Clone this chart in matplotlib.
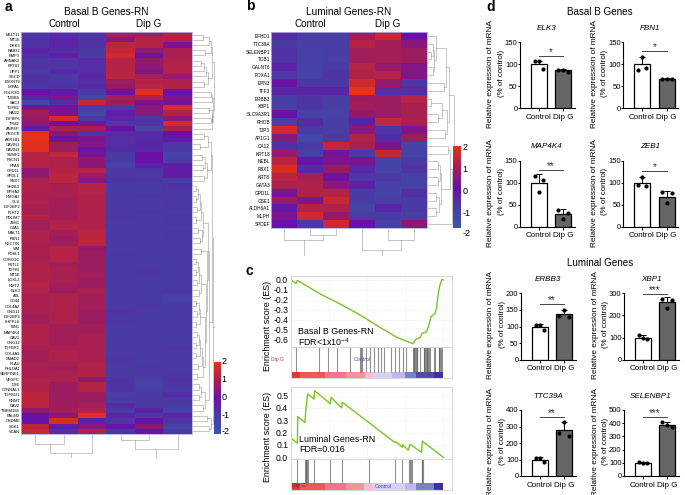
# -*- coding: utf-8 -*-
"""Basal B / Luminal heatmaps, GSEA curves and qPCR bars."""
import matplotlib
matplotlib.use("Agg")
import matplotlib.pyplot as plt
from matplotlib.colors import LinearSegmentedColormap
import numpy as np

plt.rcParams["font.family"] = ["Liberation Sans", "DejaVu Sans"]
plt.rcParams["mathtext.default"] = "regular"

W, H = 685, 495

# ---------------------------------------------------------------------------
# panel a
# ---------------------------------------------------------------------------
genes_a = ["MLLT11", "MT1E", "DKK3", "RAB32", "EMP3", "AHNAK2", "KRT81", "UPP1", "SGCD", "B3GNT9", "IMPA1",
           "POLR3G", "TUBB6", "SAC3", "TGFB1", "RAI22", "IGFBP6", "TPM2", "ANPEP", "PRGCR", "AKR1B1", "CAVIN1",
           "CAVIN3", "SUMF2", "FSCN1", "PFAS", "GPD1L", "SPDL1", "SNX7", "SH2B3", "EPHA2", "HMGA2", "GLS",
           "IGF2BP2", "FLRT2", "PDLIM7", "ZEB1", "GJA1", "MALT1", "FBN1", "NECTIN", "VIM", "FOSL1", "CORO1C",
           "FSTL1", "TGFBI", "MT5E", "LOXL2", "NMT2", "ELK3", "AXL", "CD44", "COL4A2", "GNG11", "IGF2BP3",
           "LHFPL6", "BIN1", "MAP4K4", "CAV1", "GNG12", "TGFBR2", "COL4A1", "SMAD2", "PLAU", "PHLDA1",
           "SERPINE1", "VEGFC", "DSE", "CTNNAL1", "TGFB1I1", "NNMT", "CAV2", "TMEM158", "PALM2", "GSDME",
           "SGK1", "VCAN"]
heat_a = [
    [-.8, -.7, -.9, 1.0, .9, 1.2], [-.8, -.5, -.8, .5, 1.2, 1.2], [-.8, -.5, -.8, 1.3, 1.2, .3],
    [-.5, -.7, -1.0, 1.4, .6, 1.0], [-.7, -.3, -1.0, 1.6, .1, 1.0], [-.9, -.8, -.6, 1.2, .7, 1.1],
    [-.8, -.8, -.7, 1.2, .6, 1.2], [-1.0, -.6, -.7, 1.2, .4, 1.2], [-.8, -1.0, -.5, 1.3, 1.0, .7],
    [-.8, -.9, -.7, .8, 1.2, 1.1], [-.9, -.8, -.6, .7, 1.3, 1.1], [0, -.2, -1.0, .1, 1.9, -.1],
    [-.6, .3, -1.4, .9, 1.1, .3], [-1.5, -.6, 1.4, .8, .3, .2], [.2, .2, -1.2, -1.0, .5, 1.8],
    [.9, .3, -1.4, -.4, .5, 1.1], [.7, 1.7, -.9, -.5, -.9, .6], [.6, 0, .2, -.9, -.8, 1.8],
    [-.2, 1.0, .9, 0, -1.5, 1.0], [1.95, .5, -.9, -.6, -.6, 0], [1.95, .1, .3, -.7, -.6, -.2],
    [1.9, .8, .4, -.7, -.5, -.9], [1.9, .8, -.1, -.6, -.6, -.9], [1.2, 1.4, .2, -1.0, 0, -1.2],
    [1.2, 1.1, .6, -1.0, 0, -1.1], [1.2, 1.1, .5, -1.2, -.4, -.3], [.6, 1.2, 1.2, -.9, -.9, -.3],
    [.6, 1.3, .8, -.9, -1.0, -.3], [1.1, 1.3, .5, -.8, -.8, -1.1], [1.1, 1.0, 1.2, -1.0, -1.0, -.8],
    [1.1, 1.0, 1.2, -1.0, -1.0, -.9], [1.0, 1.0, 1.1, -1.0, -.9, -.9], [1.1, .9, 1.1, -1.0, -1.0, -.9],
    [1.0, .9, 1.1, -1.0, -1.0, -.9], [1.0, .9, 1.1, -.9, -.9, -1.0], [1.2, .9, 1.1, -.9, -1.0, -.9],
    [.9, 1.1, 1.1, -1.0, -1.0, -.9], [.9, 1.2, 1.1, -1.0, -1.0, -1.0], [1.1, .9, 1.3, -1.0, -1.0, -.9],
    [1.1, .8, 1.3, -1.0, -1.0, -.9], [1.0, .9, 1.3, -1.0, -1.0, -1.0], [1.0, 1.2, .7, -1.0, -1.0, -1.0],
    [1.0, 1.2, .8, -.9, -1.0, -1.0], [1.0, 1.2, .8, -1.0, -1.0, -1.0], [1.1, .9, .8, -1.0, -1.0, -1.0],
    [1.1, 1.0, .8, -1.0, -.9, -1.0], [1.1, 1.0, .9, -1.0, -.9, -1.0], [1.1, 1.0, .8, -1.0, -1.0, -1.0],
    [1.2, .9, .8, -1.0, -1.0, -1.0], [1.1, .8, 1.0, -1.0, -1.0, -.9], [1.0, 1.1, .9, -1.0, -1.0, -1.1],
    [1.0, 1.1, .9, -1.0, -1.0, -1.1], [1.0, 1.1, .9, -1.0, -.9, -1.0], [1.0, 1.1, .8, -.8, -1.0, -1.0],
    [.9, 1.1, .8, -.9, -1.0, -1.0], [.9, 1.1, .8, -.9, -1.0, -1.0], [1.1, .9, .9, -1.0, -1.0, -1.0],
    [1.1, .9, .9, -1.0, -1.0, -1.0], [1.1, .9, 1.0, -1.0, -1.0, -1.0], [1.1, .9, 1.0, -1.0, -1.0, -1.0],
    [1.0, 1.0, 1.0, -1.0, -1.0, -.9], [.9, 1.1, 1.0, -1.0, -1.0, -1.0], [.9, 1.1, 1.0, -.9, -1.0, -1.0],
    [1.0, 1.0, 1.1, -.9, -1.0, -1.0], [1.0, .9, 1.1, -1.0, -.9, -1.0], [1.0, 1.0, 1.1, -1.0, -.9, -.9],
    [1.1, 1.1, .6, -.8, -1.1, -.8], [1.1, .8, 1.2, -.8, -1.2, -.9], [1.1, .8, 1.2, -.8, -1.1, -1.0],
    [1.3, .8, .8, -1.1, -1.0, -.6], [1.3, .8, .8, -1.0, -1.0, -.9], [1.3, .8, .9, -.6, -1.0, -1.0],
    [.6, .9, 1.2, -1.0, -.4, -1.3], [0, .5, 1.9, -.5, -.9, -.5], [-.1, 1.8, -.4, -.8, -.1, -.8],
    [1.3, -.3, .5, -.1, .5, -1.4], [1.5, -.7, 1.1, -.8, -.1, -1.0],
]

# dendrogram merges: leaf/branch a, its height, leaf/branch b, its height, merge height
col_tree_a = [(0, 0, 1, 0, 9), (.5, 9, 2, 0, 18), (3, 0, 4, 0, 5), (3.5, 5, 5, 0, 13.5), (1.25, 18, 4.25, 13.5, 22.5)]
row_tree_a = [
    (0, 0, 1, 0, 10), (.5, 10, 2, 0, 16), (3, 0, 4, 0, 12), (1.25, 16, 3.5, 12, 18), (5, 0, 6, 0, 8),
    (5.5, 8, 7, 0, 11), (6.25, 11, 8, 0, 13), (9, 0, 10, 0, 11), (7.2, 13, 9.5, 11, 15), (2.4, 18, 8.3, 15, 19),
    (11, 0, 12, 0, 18), (11.5, 18, 13, 0, 18.5), (14, 0, 15, 0, 16), (16, 0, 17, 0, 18), (14.5, 16, 16.5, 18, 18.5),
    (15.5, 18.5, 18, 0, 19), (12.2, 18.5, 16.7, 19, 19.5), (5.3, 19, 14.5, 19.5, 21),
    (19, 0, 20, 0, 11), (21, 0, 22, 0, 7), (19.5, 11, 21.5, 7, 15), (23, 0, 24, 0, 9), (25, 0, 26, 0, 10),
    (23.5, 9, 25.5, 10, 12), (27, 0, 28, 0, 11), (24.5, 12, 27.5, 11, 14), (20.5, 15, 26, 14, 18),
    (29, 0, 30, 0, 3), (31, 0, 32, 0, 3), (29.5, 3, 31.5, 3, 5), (33, 0, 34, 0, 4), (30.5, 5, 33.5, 4, 7),
    (35, 0, 36, 0, 3), (32, 7, 35.5, 3, 8), (37, 0, 38, 0, 5), (39, 0, 40, 0, 7), (37.5, 5, 39.5, 7, 9),
    (34, 8, 38.5, 9, 10), (41, 0, 42, 0, 8), (43, 0, 44, 0, 3), (45, 0, 46, 0, 3), (43.5, 3, 45.5, 3, 5),
    (47, 0, 48, 0, 4), (44.5, 5, 47.5, 4, 6), (49, 0, 50, 0, 6), (46, 6, 49.5, 6, 8), (51, 0, 52, 0, 3),
    (53, 0, 54, 0, 4), (51.5, 3, 53.5, 4, 6), (55, 0, 56, 0, 3), (52.5, 6, 55.5, 3, 7), (57, 0, 58, 0, 4),
    (59, 0, 60, 0, 3), (57.5, 4, 59.5, 3, 6), (61, 0, 62, 0, 3), (58.5, 6, 61.5, 3, 7), (63, 0, 64, 0, 5),
    (60, 7, 63.5, 5, 9), (65, 0, 66, 0, 4), (61.8, 9, 65.5, 4, 10), (54, 7, 63.6, 10, 12), (47.7, 8, 58.8, 12, 13),
    (41.5, 8, 53, 13, 14), (36, 10, 47, 14, 15), (67, 0, 68, 0, 6), (69, 0, 70, 0, 6), (67.5, 6, 69.5, 6, 8),
    (71, 0, 72, 0, 10), (68.5, 8, 71.5, 10, 12), (41.5, 15, 70, 12, 16), (23, 18, 55, 16, 19),
    (73, 0, 74, 0, 14), (75, 0, 76, 0, 16), (73.5, 14, 75.5, 16, 17.5), (39, 19, 74.5, 17.5, 20),
    (10, 21, 56, 20, 21.5),
]

# ---------------------------------------------------------------------------
# panel b
# ---------------------------------------------------------------------------
genes_b = ["EFHD1", "TTC39A", "SELENBP1", "TOB1", "GALNT6", "FOXA1", "EPN3", "TFF3", "ERBB3", "XBP1", "SLC9A3R1",
           "RHOB", "TJP3", "AP1G1", "CA12", "KRT18", "NEBL", "PBX1", "KRT8", "GATA3", "GPD1L", "GSE1", "ALDH6A1",
           "MLPH", "SPDEF"]
heat_b = [
    [-.6, -1.1, -1.1, .9, 1.5, 0], [-1.0, -1.1, -1.1, 1.2, .9, .5], [-.8, -1.2, -1.1, .9, .9, .8],
    [-.8, -1.2, -1.1, .9, .9, .8], [-.5, -1.2, -1.0, 1.2, .7, .4], [-.9, -1.2, -.8, 1.1, 1.2, .4],
    [-.05, -.9, -.9, 1.6, .7, -.9], [-.5, -.5, -.5, 2.0, -.7, -.7], [-1.1, -.8, -1.1, .8, .8, 1.2],
    [-1.1, -.9, -1.1, .9, .8, 1.0], [-.1, -1.2, -1.2, .6, .8, 1.0], [-1.1, -.6, -1.1, -.4, 1.4, 1.0],
    [1.6, -1.0, -1.1, .5, -.9, .4], [.5, -1.5, -1.0, 1.1, -.6, .8], [-.7, -1.0, 1.4, 1.0, .3, -1.3],
    [.7, -1.1, .2, -.9, 1.4, -1.3], [1.3, -.1, .3, .3, -1.3, -1.0], [1.8, -.6, .7, -.5, -1.3, -.8],
    [1.3, 1.0, .1, -.9, -.9, -1.2], [1.0, 1.1, .5, -.4, -1.2, -1.2], [.3, 1.1, 1.2, -1.0, -1.2, -.7],
    [.8, .3, 1.5, -1.0, -1.1, -1.0], [-.2, 1.2, 1.1, -1.3, -.5, -1.0], [.3, 1.6, .7, -1.0, -1.0, -1.1],
    [0, -.9, 1.6, 0, -1.2, .6],
]
col_tree_b = [(1, 0, 2, 0, 6), (0, 0, 1.5, 6, 10.5), (4, 0, 5, 0, 10.5), (3, 0, 4.5, 10.5, 20.5), (.75, 10.5, 3.75, 20.5, 26.5)]
row_tree_b = [
    (2, 0, 3, 0, 3), (1, 0, 2.5, 3, 5), (4, 0, 5, 0, 5), (1.75, 5, 4.5, 5, 6), (0, 0, 3.1, 6, 8), (6, 0, 7, 0, 16),
    (1.5, 8, 6.5, 16, 18), (8, 0, 9, 0, 3), (10, 0, 11, 0, 10), (8.5, 3, 10.5, 10, 14), (12, 0, 13, 0, 17),
    (9.5, 14, 12.5, 17, 19), (4, 18, 11, 19, 21), (14, 0, 15, 0, 20), (16, 0, 17, 0, 10), (18, 0, 19, 0, 10),
    (16.5, 10, 18.5, 10, 12), (20, 0, 21, 0, 8), (22, 0, 23, 0, 8), (20.5, 8, 22.5, 8, 11), (17.5, 12, 21.5, 11, 13),
    (14.5, 20, 19.5, 13, 22), (17, 22, 24, 0, 24), (7.5, 21, 20.5, 24, 26),
]

# ---------------------------------------------------------------------------
# panel c
# ---------------------------------------------------------------------------
rank_basal = [0, .033, .042, .19, .24, .30, .39, .46, .585, .695, .80, .82, .85, .86, .89, .905, .92, .945, .956,
              .967, .978, .991, 1]
es_basal = [0, -.035, -.005, -.14, -.18, -.225, -.30, -.36, -.48, -.58, -.645, -.60, -.58, -.54, -.525, -.455,
            -.37, -.34, -.28, -.135, -.05, .005, 0]
hits_basal = [.033, .186, .24, .30, .387, .455, .46, .468, .49, .52, .547, .573, .591, .613, .656, .683, .711,
              .737, .752, .80, .805, .81, .815, .82, .825, .83, .847, .87, .875, .88, .885, .89, .895, .90, .905,
              .91, .94, .945, .97, .975, .98, .985, .99]
rank_lum = [0, .004, .042, .044, .092, .096, .103, .109, .151, .155, .258, .263, .333, .337, .683, .687, .731, .733,
            .77, .781, .858, .862, 1]
es_lum = [0, .153, .114, .33, .28, .367, .443, .514, .472, .54, .435, .486, .40, .446, .119, .125, .082, .102, .057,
          .105, .04, .131, 0]
hits_lum = [.001, .042, .092, .096, .10, .105, .109, .151, .258, .337, .514, .683, .731, .777, .781, .786, .792,
            .857, .862, .866]
strip_edges_basal = [0, .06, .22, .36, .485, .54, .66, .75, .82, .94, 1]
strip_edges_lum = [0, .06, .22, .36, .48, .54, .75, .82, .94, .94, 1]
strip_colors = ["#d93a3a", "#f25555", "#f8708c", "#fa9098", "#f5bcdc", "#d2d2f2", "#c0b8e8", "#7880d0", "#5048b0", "#3a30a0"]

# ---------------------------------------------------------------------------
# panel d
# ---------------------------------------------------------------------------
bar_names = ["ELK3", "FBN1", "MAP4K4", "ZEB1", "ERBB3", "XBP1", "TTC39A", "SELENBP1"]
bar_means = [[100, 86], [100, 67], [100, 28], [100, 68], [100, 138], [100, 260], [100, 280], [100, 388]]
bar_errs = [[8, 3], [17, 1], [19, 12], [13, 13], [7, 13], [11, 22], [14, 45], [8, 20]]
control_pts = [[107, 107, 90], [88, 117, 92], [115, 80, 107], [95, 113, 92], [106, 105, 90], [110, 100, 92],
               [112, 110, 85], [108, 100, 95]]
dip_pts = [[88, 87, 83], [67, 67, 67], [38, 17, 32], [78, 53, 77], [133, 150, 128], [274, 235, 270], [260, 325, 240],
           [408, 388, 372]]
bar_ymax = [150, 150, 150, 150, 200, 300, 400, 500]
bar_yticks = [[0, 50, 100, 150]] * 4 + [[0, 50, 100, 150, 200], [0, 100, 200, 300], [0, 100, 200, 300, 400],
                                        [0, 100, 200, 300, 400, 500]]
sig_y = [119, 130, 129, 126, 167, 297, 356, 444]
sig_text = ["*", "*", "**", "*", "**", "***", "**", "***"]

cmap = LinearSegmentedColormap.from_list("hm", ["#3a55a8", "#4a3ca4", "#6a10a8", "#a82050", "#e8301a"])


def px_axes(x0, y0, x1, y1):
    return fig.add_axes([x0 / W, 1 - y1 / H, (x1 - x0) / W, (y1 - y0) / H])


def px_text(x, y, s, **kw):
    kw.setdefault("ha", "center")
    kw.setdefault("va", "center")
    fig.text(x / W, 1 - y / H, s, **kw)


def draw_tree(ax, merges, horizontal):
    # horizontal=True: the tree grows rightwards from the heatmap edge
    for a, ha, b, hb, h in merges:
        pos, hgt = [a, a, b, b], [ha, h, h, hb]
        xs, ys = (hgt, pos) if horizontal else (pos, hgt)
        ax.plot(xs, ys, color="#777777", alpha=.5, lw=.6, solid_joinstyle="miter")


def heatmap(box, rows, genes, tree_w, tree_h, row_tree, col_tree, font):
    x0, y0, x1, y1 = box
    ax = px_axes(x0, y0, x1, y1)
    ax.imshow(np.array(rows), cmap=cmap, vmin=-2, vmax=2, aspect="auto", interpolation="nearest")
    ax.set_xticks([])
    ax.set_yticks(range(len(genes)), genes, fontsize=font)
    ax.tick_params(axis="y", length=0, pad=.7)
    for s in ax.spines.values():
        s.set_color("#b5aee0")
        s.set_linewidth(.6)

    right = px_axes(x1 + 1, y0, x1 + 1 + tree_w, y1)
    draw_tree(right, row_tree, True)
    right.set_xlim(0, tree_w)
    right.set_ylim(len(genes) - .5, -.5)
    right.axis("off")

    below = px_axes(x0, y1 + 1, x1, y1 + 1 + tree_h)
    draw_tree(below, col_tree, False)
    below.set_xlim(-.5, 5.5)
    below.set_ylim(tree_h, 0)
    below.axis("off")


def colorbar(x0, y0, x1, y1, tick_ys, pad):
    ax = px_axes(x0, y0, x1, y1)
    ax.imshow(np.linspace(2, -2, 200).reshape(-1, 1), cmap=cmap, vmin=-2, vmax=2, aspect="auto")
    ax.axis("off")
    for lab, y in zip(["2", "1", "0", "-1", "-2"], tick_ys):
        px_text(x1 + pad, y, lab, fontsize=6.5, ha="left")


def gsea(top, mid, hit_bot, bot, es_limits, rank, es, hits, edges, yticks, fmt):
    x0, x1 = 291, 451.7
    xmax = (x1 - x0) / 152.3
    ax = px_axes(x0, top, x1, mid)
    ax.plot(rank, es, color="#7ac520", lw=1.0)
    ax.set_xlim(0, xmax)
    ax.set_ylim(*es_limits)
    ax.set_yticks(yticks, [fmt % t for t in yticks], fontsize=6.2)
    ax.set_xticks([.25, .5, .75, 1], [])
    ax.tick_params(length=0, pad=2)
    ax.grid(color="#e4e4e4", lw=.4, ls=":")
    for s in ax.spines.values():
        s.set_color("#d8d8d8")
        s.set_linewidth(.8)

    hx = px_axes(x0, mid, x1, bot)
    hx.set_xlim(0, xmax)
    hx.set_ylim(0, 1)
    frac = (bot - hit_bot) / (bot - mid)
    hx.vlines(hits, frac, 1, color="#555555", alpha=.65, lw=.8)
    for i, c in enumerate(strip_colors):
        hx.axvspan(edges[i], edges[i + 1], ymin=0, ymax=frac, color=c, lw=0)
    hx.set_xticks([])
    hx.set_yticks([])
    for s in hx.spines.values():
        s.set_color("#d8d8d8")
        s.set_linewidth(.8)
    return ax


def bar_panel(i, left, top, bottom, label_dx):
    ax = px_axes(left, top, left + 55, bottom)
    ctrl_x, dip_x = [-.17, .0, .17], [-.2, 0, .2]
    ax.bar([0, 1], bar_means[i], width=.65, color=["white", "#666666"], edgecolor="black", lw=.9, zorder=2)
    ax.errorbar([0, 1], bar_means[i], yerr=[[0, 0], bar_errs[i]], fmt="none", ecolor="black", elinewidth=.7,
                capsize=2.5, capthick=.7, zorder=3)
    ax.scatter(np.add(0, ctrl_x), control_pts[i], s=9, color="black", zorder=4, lw=0, clip_on=False)
    ax.scatter(np.add(1, dip_x), dip_pts[i], s=9, color="black", zorder=4, lw=0, clip_on=False)
    ax.plot([0, 1], [sig_y[i], sig_y[i]], color="#444444", lw=.7)
    # the asterisks sit a little above the bracket
    ax.annotate(sig_text[i], (.5, sig_y[i]), xytext=(0, -.5), textcoords="offset points", ha="center", va="bottom",
                fontsize=7, color="#333333")
    ax.set_xlim(-.76, 1.476)
    ax.set_ylim(0, bar_ymax[i])
    ax.set_yticks(bar_yticks[i])
    ax.set_xticks([0, 1], ["Control", "Dip G"])
    ax.tick_params(axis="x", labelsize=5.8, length=2.5, width=.7, pad=1.5)
    ax.tick_params(axis="y", labelsize=5.5, length=1.5, width=.7, pad=.3)
    ax.spines[["top", "right"]].set_visible(False)
    ax.spines[["left", "bottom"]].set_linewidth(.8)
    ax.patch.set_alpha(0)
    px_text(left + 27, top - 14, bar_names[i], fontsize=5.8, style="italic")
    ymid = (top + bottom) / 2 - 1
    px_text(left - label_dx[0], ymid, "Relative expression of mRNA", fontsize=5.95, rotation=90)
    px_text(left - label_dx[1], ymid - 1, "(% of control)", fontsize=5.7, rotation=90)


fig = plt.figure(figsize=(W / 100, H / 100), dpi=100)

px_text(8, 7, "a", fontsize=10, fontweight="bold")
px_text(250, 6, "b", fontsize=10, fontweight="bold")
px_text(249, 271, "c", fontsize=10, fontweight="bold")
px_text(491, 7, "d", fontsize=10, fontweight="bold")

px_text(106, 12, "Basal B Genes-RN", fontsize=7.2)
px_text(64, 24, "Control", fontsize=7.1)
px_text(149, 24, "Dip G", fontsize=7.1)
heatmap((21, 32, 192, 434), heat_a, genes_a, 21.5, 23, row_tree_a, col_tree_a, 2.9)
colorbar(214, 362, 221, 434, [362, 379, 397, 415, 432], .5)

px_text(349, 12, "Luminal Genes-RN", fontsize=7.2)
px_text(310, 24, "Control", fontsize=7.1)
px_text(388, 24, "Dip G", fontsize=7.1)
heatmap((271, 32, 427, 228), heat_b, genes_b, 26.5, 27, row_tree_b, col_tree_b, 3.4)
colorbar(453, 146, 461, 228, [148, 170, 191, 213, 234], 1.5)

gsea(275.7, 347, 372, 378, (-.678, .043), rank_basal, es_basal, hits_basal, strip_edges_basal,
     [0, -.1, -.2, -.3, -.4, -.5, -.6], "%.1f")
gsea(387, 459, 483, 490, (-.014, .57), rank_lum, es_lum, hits_lum, strip_edges_lum,
     [0, .1, .2, .3, .4, .5], "%.1f")
px_text(267, 326, "Enrichment score (ES)", fontsize=6.4, rotation=90)
px_text(267, 437, "Enrichment score (ES)", fontsize=6.4, rotation=90)
px_text(298, 332, "Basal B Genes-RN", fontsize=6.4, ha="left")
px_text(298, 342, "FDR<1x10$^{-4}$", fontsize=6.4, ha="left")
px_text(299, 439, "Luminal Genes-RN", fontsize=6.4, ha="left")
px_text(299, 450, "FDR=0.016", fontsize=6.4, ha="left")
px_text(277, 359.5, "Dip G", fontsize=3.6, color="#b04040")
px_text(362, 359.5, "Control", fontsize=3.8, color="#5848a0")
px_text(299, 486, "Dip G", fontsize=3.8, color="#802020")
px_text(383, 486, "Control", fontsize=3.8, color="#5848a0")

px_text(600, 12, "Basal B Genes", fontsize=7.1)
px_text(600, 263, "Luminal Genes", fontsize=7.1)
left_dx, right_dx = (30, 18.5), (28.5, 18.5)
bar_panel(0, 520, 42.3, 108.3, left_dx)
bar_panel(1, 623.3, 42.3, 108.3, right_dx)
bar_panel(2, 520, 160.7, 226.7, left_dx)
bar_panel(3, 623.3, 160.7, 226.7, right_dx)
bar_panel(4, 521, 293.3, 359.7, left_dx)
bar_panel(5, 624, 293.3, 359.7, right_dx)
bar_panel(6, 521, 410, 476, left_dx)
bar_panel(7, 624, 410, 476, right_dx)

fig.savefig("out.png", dpi=100)
